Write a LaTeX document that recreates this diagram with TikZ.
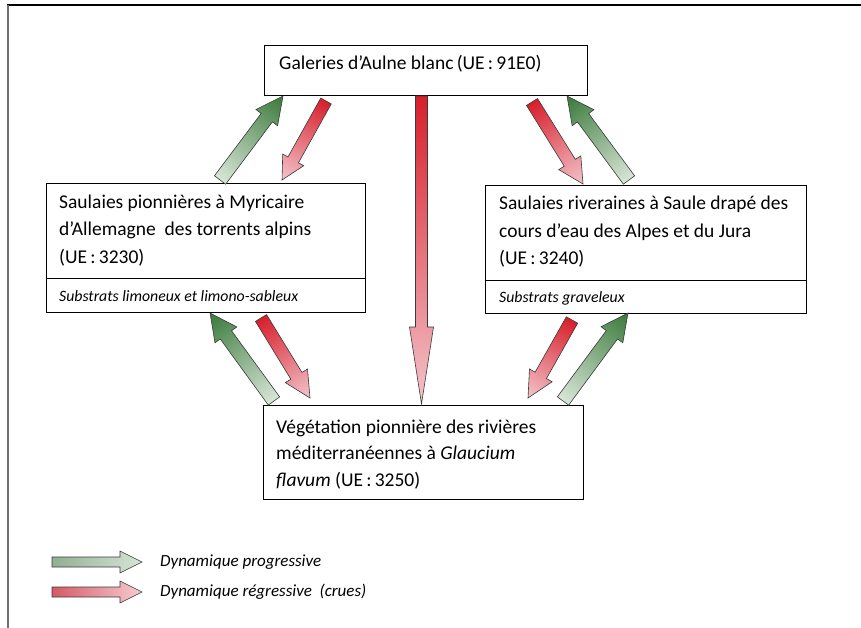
\documentclass[tikz,border=0pt]{standalone}
\usepackage{fontspec}
\setmainfont{Carlito}
\usetikzlibrary{calc}
\definecolor{gdark}{HTML}{3A7A3A}
\definecolor{glight}{HTML}{D8E6D8}
\definecolor{rdark}{HTML}{D71F2B}
\definecolor{rlight}{HTML}{F4C4CB}
\definecolor{lgA}{HTML}{93AE93}
\definecolor{lgB}{HTML}{D6E5D6}
\definecolor{lrA}{HTML}{D45A67}
\definecolor{lrB}{HTML}{F7CCD2}
\definecolor{arrline}{HTML}{3A3A3A}
\definecolor{framegray}{HTML}{707070}
\newcommand\blockarr[7]{%
  \path let \p1=($(#2)-(#1)$) in \pgfextra{%
    \pgfmathsetmacro\arrang{atan2(\y1,\x1)}%
    \pgfmathsetmacro\arrlen{veclen(\x1,\y1)}%
    \global\let\arrang\arrang\global\let\arrlen\arrlen};
  \begin{scope}[transform canvas={shift={(#1)},rotate=\arrang}]
    \shade[draw=arrline, line width=0.6pt, line join=miter, left color=#3, right color=#4]
      (0pt,-#5pt) -- (\arrlen pt-#7pt,-#5pt) -- (\arrlen pt-#7pt,-#6pt) -- (\arrlen pt,0pt)
      -- (\arrlen pt-#7pt,#6pt) -- (\arrlen pt-#7pt,#5pt) -- (0pt,#5pt) -- cycle;
  \end{scope}}
\begin{document}
\begin{tikzpicture}[x=1pt,y=-1pt,
  box/.style={draw=black, line width=1pt, inner sep=0pt, rectangle},
  txt/.style={anchor=base west, inner sep=0pt, font=\fontsize{19.5}{23}\selectfont},
  subtxt/.style={anchor=base west, inner sep=0pt, font=\fontsize{15.8}{19}\selectfont\itshape},
  legtxt/.style={anchor=west, inner sep=0pt, font=\fontsize{17}{20}\selectfont\itshape}]
\useasboundingbox[fill=white] (0,0) rectangle (861,628);
% frame
\coordinate (fTL) at (7,5);
\coordinate (fTR) at (861,5);
\coordinate (fBL) at (7.5,628);
\draw[black, line width=1.3pt] (fTL) -- (fTR);
\draw[framegray, line width=2pt] (7.5,5) -- (fBL);
% boxes
\node[box, minimum width=323pt, minimum height=50pt] (top) at (425.5,71) {};
\node[box, minimum width=319pt, minimum height=128pt] (left) at (205.5,248) {};
\node[box, minimum width=321pt, minimum height=127pt] (right) at (645.5,249.5) {};
\node[box, minimum width=320pt, minimum height=94pt] (bot) at (423,452) {};
\coordinate (ldiv) at (0,278);
\coordinate (rdiv) at (0,280);
\draw[line width=1pt] (left.west |- ldiv) -- (left.east |- ldiv);
\draw[line width=1pt] (right.west |- rdiv) -- (right.east |- rdiv);
% texts
\node[txt] (ttop) at (279,70) {Galeries d’Aulne blanc\,(UE\,:\,91E0)};
\node[txt] (tl1) at (59,209) {Saulaies pionnières à Myricaire};
\node[txt] (tl2) at (59,236) {d’Allemagne\ \ des torrents alpins};
\node[txt] (tl3) at (59,263) {(UE\,:\,3230)};
\node[subtxt] (tl4) at (59,301) {Substrats limoneux et limono-sableux};
\node[txt] (tr1) at (499,210) {Saulaies riveraines à Saule drapé des};
\node[txt] (tr2) at (499,237) {cours d’eau des Alpes et du Jura};
\node[txt] (tr3) at (499,264) {(UE\,:\,3240)};
\node[subtxt] (tr4) at (499,302) {Substrats graveleux};
\node[txt] (tb1) at (276,433) {Végétation pionnière des rivières};
\node[txt] (tb2) at (276,459) {méditerranéennes à \textit{Glaucium}};
\node[txt] (tb3) at (276,486) {\textit{flavum} (UE\,:\,3250)};
% arrow end points
\coordinate (g1a) at (220,180); \coordinate (g1b) at (283,96);
\coordinate (r1a) at (326,101); \coordinate (r1b) at (282,180);
\coordinate (ca) at (421.5,96); \coordinate (cb) at (421.5,404);
\coordinate (r2a) at (532,102); \coordinate (r2b) at (583,184);
\coordinate (g2a) at (629,180); \coordinate (g2b) at (567,96);
\coordinate (g3a) at (274,401); \coordinate (g3b) at (210,313);
\coordinate (r3a) at (261,318); \coordinate (r3b) at (310,398);
\coordinate (r4a) at (572,320); \coordinate (r4b) at (528,398);
\coordinate (g4a) at (563,401); \coordinate (g4b) at (628,313);
\blockarr{g1a}{g1b}{glight}{gdark}{7}{13.5}{27}
\blockarr{r1a}{r1b}{rdark}{rlight}{6}{12}{23}
\blockarr{ca}{cb}{rdark}{rlight}{6}{12}{77}
\blockarr{r2a}{r2b}{rdark}{rlight}{6.5}{13}{25}
\blockarr{g2a}{g2b}{glight}{gdark}{7}{13.5}{27}
\blockarr{g3a}{g3b}{glight}{gdark}{7}{13.5}{27}
\blockarr{r3a}{r3b}{rdark}{rlight}{6.5}{13}{26}
\blockarr{r4a}{r4b}{rdark}{rlight}{6.5}{13}{26}
\blockarr{g4a}{g4b}{glight}{gdark}{7}{13.5}{27}
% legend
\coordinate (lga) at (52,562); \coordinate (lgb) at (142,562);
\coordinate (lra) at (52,592); \coordinate (lrb) at (142,592);
\blockarr{lga}{lgb}{lgA}{lgB}{5}{11}{22}
\blockarr{lra}{lrb}{lrA}{lrB}{5}{11}{22}
\node[legtxt] (leg1) at (160,562) {Dynamique progressive};
\node[legtxt] (leg2) at (160,592) {Dynamique régressive\ \ (crues)};
\end{tikzpicture}
\end{document}
